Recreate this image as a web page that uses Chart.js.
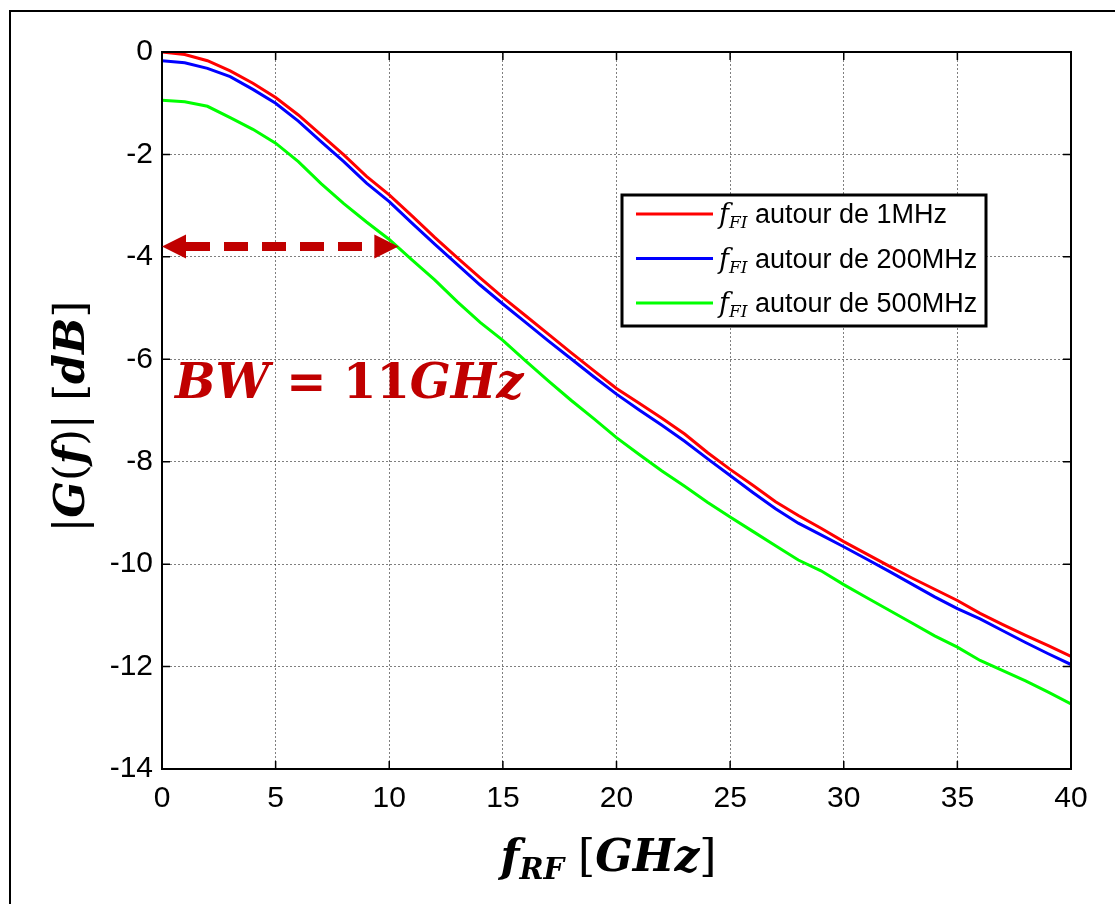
<!DOCTYPE html>
<html>
<head>
<meta charset="utf-8">
<title>|G(f)| vs f_RF</title>
<script src="https://cdn.jsdelivr.net/npm/chart.js@4.4.0/dist/chart.umd.min.js"></script>
<style>
  html, body { margin: 0; padding: 0; background: #fff; }
  #wrap { position: relative; width: 1115px; height: 904px; overflow: hidden; }
  #frame { position: absolute; left: 9px; top: 10px; width: 1200px; height: 1000px;
           border-left: 2px solid #000; border-top: 2px solid #000; }
  canvas { position: absolute; left: 0; top: 0; }
</style>
</head>
<body>
<div id="wrap">
  <div id="frame"></div>
  <canvas id="chart" width="1115" height="904"></canvas>
</div>
<script>
// ---- data ----
const freqGHz = [0, 1, 2, 3, 4, 5, 6, 7, 8, 9, 10, 11, 12, 13, 14, 15, 16, 17, 18, 19, 20,
                 21, 22, 23, 24, 25, 26, 27, 28, 29, 30, 31, 32, 33, 34, 35, 36, 37, 38, 39, 40];

const gain1MHz = [0, -0.05, -0.17, -0.37, -0.61, -0.89, -1.23, -1.62, -2.01, -2.43,
                  -2.79, -3.2, -3.62, -4.02, -4.41, -4.79, -5.15, -5.51, -5.87, -6.22,
                  -6.57, -6.86, -7.15, -7.46, -7.82, -8.15, -8.46, -8.78, -9.05, -9.3,
                  -9.56, -9.8, -10.04, -10.27, -10.49, -10.71, -10.96, -11.18, -11.39, -11.59, -11.8];

const gain200MHz = [-0.17, -0.21, -0.32, -0.48, -0.73, -1.0, -1.35, -1.75, -2.14, -2.56,
                    -2.92, -3.34, -3.75, -4.15, -4.55, -4.92, -5.28, -5.64, -5.99, -6.34,
                    -6.68, -6.99, -7.29, -7.6, -7.94, -8.27, -8.6, -8.92, -9.2, -9.43,
                    -9.66, -9.9, -10.14, -10.39, -10.64, -10.87, -11.07, -11.3, -11.53, -11.75, -11.96];

const gain500MHz = [-0.94, -0.97, -1.06, -1.28, -1.51, -1.78, -2.14, -2.57, -2.96, -3.32,
                    -3.66, -4.06, -4.45, -4.88, -5.28, -5.63, -6.03, -6.42, -6.8, -7.16,
                    -7.53, -7.86, -8.18, -8.48, -8.79, -9.08, -9.36, -9.64, -9.92, -10.13,
                    -10.4, -10.65, -10.9, -11.15, -11.4, -11.62, -11.88, -12.08, -12.28, -12.5, -12.73];

const seriesLabels = ['autour de 1MHz', 'autour de 200MHz', 'autour de 500MHz'];
const seriesColors = ['#ff0000', '#0000ff', '#00ff00'];

const xTicks = [0, 5, 10, 15, 20, 25, 30, 35, 40];
const yTicks = [0, -2, -4, -6, -8, -10, -12, -14];

// bandwidth marker: -3.8 dB level, from 0 to ~10.4 GHz
const bwFrom = 0;
const bwTo = 10.4;
const bwLevel = -3.8;
const bwText = 'BW = 11GHz';

// ---- helpers ----
const SANS = '"Liberation Sans", Arial, sans-serif';
const SERIF = '"DejaVu Serif", "Liberation Serif", serif';

function toPoints(ys) {
    return freqGHz.map((f, i) => ({ x: f, y: ys[i] }));
}

// draw a list of text runs one after another, return total width
function runsWidth(ctx, runs) {
    let w = 0;
    runs.forEach(r => { ctx.font = r.font; w += ctx.measureText(r.text).width; });
    return w;
}
function drawRuns(ctx, runs, x, y) {
    runs.forEach(r => {
        ctx.font = r.font;
        ctx.fillText(r.text, x, y + (r.dy || 0));
        x += ctx.measureText(r.text).width;
    });
    return x;
}

// ========== DECORATIONS PLUGIN ==========
const decorations = {
    id: 'decorations',
    afterDatasetsDraw(chart) {
        const ctx = chart.ctx;
        const area = chart.chartArea;
        const xs = chart.scales.x;
        const ys = chart.scales.y;

        ctx.save();

        // axes box
        ctx.strokeStyle = '#000';
        ctx.lineWidth = 2;
        ctx.strokeRect(area.left, area.top, area.right - area.left, area.bottom - area.top);

        // inward ticks on all four sides
        ctx.lineWidth = 1.5;
        const tl = 8;
        ctx.beginPath();
        xTicks.forEach(v => {
            const px = xs.getPixelForValue(v);
            ctx.moveTo(px, area.bottom); ctx.lineTo(px, area.bottom - tl);
            ctx.moveTo(px, area.top); ctx.lineTo(px, area.top + tl);
        });
        yTicks.forEach(v => {
            const py = ys.getPixelForValue(v);
            ctx.moveTo(area.left, py); ctx.lineTo(area.left + tl, py);
            ctx.moveTo(area.right, py); ctx.lineTo(area.right - tl, py);
        });
        ctx.stroke();

        // bandwidth double arrow
        const ax0 = xs.getPixelForValue(bwFrom);
        const ax1 = xs.getPixelForValue(bwTo);
        const ay = ys.getPixelForValue(bwLevel);
        const headLen = 24, headHalf = 12;
        ctx.strokeStyle = '#c00000';
        ctx.fillStyle = '#c00000';
        ctx.lineWidth = 9;
        ctx.setLineDash([24, 14]);
        ctx.beginPath();
        ctx.moveTo(ax0 + headLen, ay);
        ctx.lineTo(ax1 - headLen, ay);
        ctx.stroke();
        ctx.setLineDash([]);
        ctx.beginPath();
        ctx.moveTo(ax0, ay);
        ctx.lineTo(ax0 + headLen, ay - headHalf);
        ctx.lineTo(ax0 + headLen, ay + headHalf);
        ctx.closePath();
        ctx.moveTo(ax1, ay);
        ctx.lineTo(ax1 - headLen, ay - headHalf);
        ctx.lineTo(ax1 - headLen, ay + headHalf);
        ctx.closePath();
        ctx.fill();

        // BW label
        const bi = 'bold italic 48px ' + SERIF;
        const bu = 'bold 48px ' + SERIF;
        const parts = bwText.split(' ');
        const bwRuns = [
            { text: parts[0], font: bi },
            { text: ' ' + parts[1] + ' ', font: bu },
            { text: parts[2].slice(0, 2), font: bu },
            { text: parts[2].slice(2), font: bi }
        ];
        ctx.fillStyle = '#c00000';
        ctx.textBaseline = 'alphabetic';
        ctx.textAlign = 'left';
        drawRuns(ctx, bwRuns, xs.getPixelForValue(0.57), ys.getPixelForValue(-6.76));

        // legend
        const lx = 622, ly = 195, lw = 364, lh = 131;
        ctx.fillStyle = '#fff';
        ctx.fillRect(lx, ly, lw, lh);
        ctx.strokeStyle = '#000';
        ctx.lineWidth = 3;
        ctx.strokeRect(lx, ly, lw, lh);
        chart.data.datasets.forEach((ds, i) => {
            const rowY = ly + 19 + i * 44.5;
            ctx.strokeStyle = ds.borderColor;
            ctx.lineWidth = 3;
            ctx.beginPath();
            ctx.moveTo(lx + 14, rowY);
            ctx.lineTo(lx + 91, rowY);
            ctx.stroke();
            ctx.fillStyle = '#000';
            drawRuns(ctx, [
                { text: 'f', font: 'italic 27px ' + SERIF },
                { text: 'FI', font: 'italic 17px ' + SERIF, dy: 5 },
                { text: ' ' + ds.label, font: '27px ' + SANS }
            ], lx + 97, rowY + 9);
        });

        ctx.restore();
    },
    afterDraw(chart) {
        const ctx = chart.ctx;
        const area = chart.chartArea;
        ctx.save();
        ctx.fillStyle = '#000';
        ctx.textAlign = 'left';
        ctx.textBaseline = 'alphabetic';

        // x axis title: f_RF [GHz]
        const xb = 'bold italic 44px ' + SERIF;
        const xr = '44px ' + SERIF;
        const xRuns = [
            { text: 'f', font: xb },
            { text: 'RF', font: 'bold italic 29px ' + SERIF, dy: 8 },
            { text: ' [', font: xr },
            { text: 'GHz', font: xb },
            { text: ']', font: xr }
        ];
        const xw = runsWidth(ctx, xRuns);
        drawRuns(ctx, xRuns, (area.left + area.right) / 2 - 8 - xw / 2, 871);

        // y axis title: |G(f)| [dB]
        const yb = 'bold italic 43px ' + SERIF;
        const yr = '43px ' + SERIF;
        const yRuns = [
            { text: '|', font: yr },
            { text: 'G', font: yb },
            { text: '(', font: yr },
            { text: 'f', font: yb },
            { text: ')| [', font: yr },
            { text: 'dB', font: yb },
            { text: ']', font: yr }
        ];
        const yw = runsWidth(ctx, yRuns);
        ctx.translate(84, (area.top + area.bottom) / 2 + 6);
        ctx.rotate(-Math.PI / 2);
        drawRuns(ctx, yRuns, -yw / 2, 0);

        ctx.restore();
    }
};

// ========== CHART ==========
const gridStyle = { color: 'rgba(0,0,0,0.5)', lineWidth: 1, drawTicks: false };

new Chart(document.getElementById('chart').getContext('2d'), {
    type: 'line',
    data: {
        datasets: [gain1MHz, gain200MHz, gain500MHz].map((ys, i) => ({
            label: seriesLabels[i],
            data: toPoints(ys),
            borderColor: seriesColors[i],
            backgroundColor: seriesColors[i],
            borderWidth: 3,
            pointRadius: 0,
            tension: 0,
            fill: false,
            order: i
        }))
    },
    options: {
        responsive: false,
        animation: false,
        layout: { padding: { top: 52, right: 44, bottom: 0, left: 0 } },
        plugins: { legend: { display: false }, tooltip: { enabled: false } },
        scales: {
            x: {
                type: 'linear',
                min: 0,
                max: 40,
                afterBuildTicks: (s) => { s.ticks = xTicks.map(v => ({ value: v })); },
                afterFit: (s) => { s.height = 135; },
                ticks: { color: '#000', font: { family: SANS, size: 30 }, padding: 12, maxRotation: 0 },
                grid: gridStyle,
                border: { display: false, dash: [2, 2] }
            },
            y: {
                type: 'linear',
                min: -14,
                max: 0,
                afterBuildTicks: (s) => { s.ticks = yTicks.map(v => ({ value: v })); },
                afterFit: (s) => { s.width = 162; },
                ticks: { color: '#000', font: { family: SANS, size: 30 }, padding: 9 },
                grid: gridStyle,
                border: { display: false, dash: [2, 2] }
            }
        }
    },
    plugins: [decorations]
});
</script>
</body>
</html>
